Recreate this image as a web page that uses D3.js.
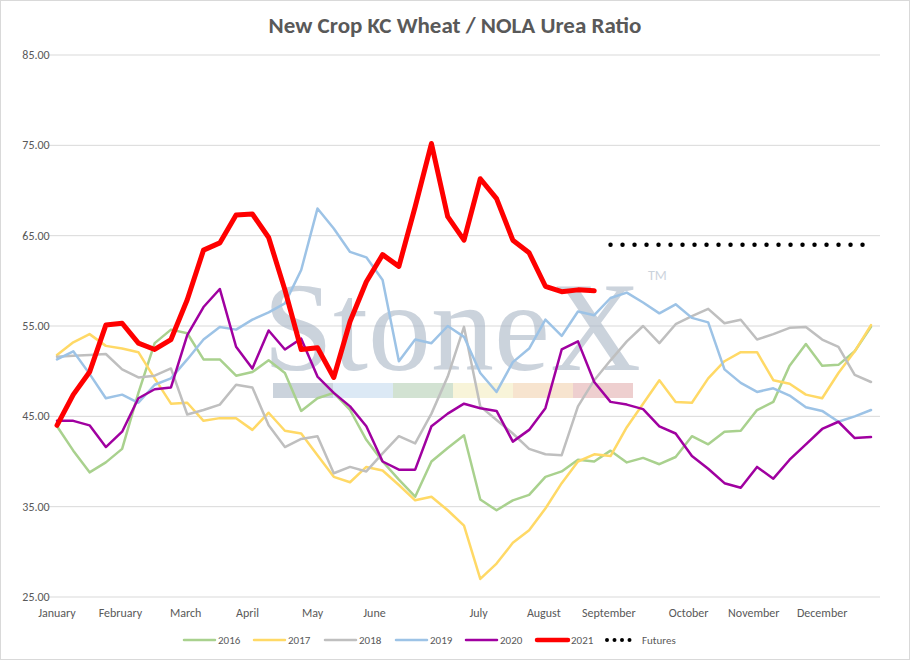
<!DOCTYPE html>
<html><head><meta charset="utf-8">
<script src="https://cdn.jsdelivr.net/npm/d3@7"></script>
<style>body{margin:0;background:#fff;font-family:Calibri,Carlito,"Liberation Sans",Arial,sans-serif;}</style>
</head><body><svg id="chart" width="910" height="660"></svg>
<script>
// weekly ratio values, index 0..50
const y2016 = [43.9,41.2,38.8,39.9,41.4,47.6,53.1,54.6,54.2,51.3,51.3,49.5,49.9,51.2,49.8,45.6,47.0,47.6,45.7,42.4,40.0,38.0,36.1,40.0,41.5,42.9,35.8,34.6,35.7,36.3,38.3,38.9,40.2,40.0,41.2,39.9,40.4,39.7,40.5,42.8,41.9,43.3,43.4,45.7,46.6,50.6,53.0,50.6,50.7,52.2,54.9];
const y2017 = [51.8,53.2,54.1,52.8,52.5,52.1,49.2,46.4,46.5,44.5,44.8,44.8,43.5,45.4,43.4,43.1,40.7,38.3,37.7,39.4,39.0,37.4,35.7,36.1,34.6,32.9,27.0,28.7,31.0,32.4,34.8,37.6,40.0,40.8,40.6,43.8,46.4,49.0,46.6,46.5,49.2,51.1,52.1,52.1,49.0,48.6,47.4,47.0,49.8,52.2,55.1];
const y2018 = [51.6,51.7,51.8,51.9,50.2,49.3,49.5,50.3,45.2,45.7,46.3,48.5,48.2,44.0,41.6,42.5,42.8,38.7,39.4,38.9,40.9,42.8,42.0,45.3,49.4,54.9,46.1,44.6,43.1,41.4,40.8,40.7,46.1,49.0,51.2,53.3,55.0,53.1,55.2,56.1,56.9,55.3,55.7,53.5,54.1,54.8,54.9,53.5,52.7,49.6,48.8];
const y2019 = [51.3,52.2,49.7,47.0,47.4,46.5,48.5,49.2,51.3,53.5,54.9,54.6,55.7,56.5,57.5,61.2,68.0,65.8,63.2,62.6,60.1,51.1,53.5,53.1,55.0,53.8,49.8,47.7,51.0,52.5,55.7,53.9,56.6,56.2,58.1,58.7,57.6,56.4,57.4,55.9,55.4,50.2,48.7,47.7,48.1,47.3,46.0,45.6,44.4,45.0,45.7];
const y2020 = [44.5,44.5,44.0,41.6,43.3,47.0,48.0,48.2,54.0,57.1,59.1,52.7,50.3,54.5,52.4,53.6,49.4,47.6,46.1,43.9,40.0,39.1,39.1,43.9,45.3,46.4,45.9,45.6,42.2,43.5,45.9,52.4,53.3,48.8,46.6,46.3,45.8,43.9,43.1,40.6,39.2,37.6,37.1,39.4,38.1,40.2,41.9,43.6,44.4,42.6,42.7];
const y2021 = [44.0,47.4,49.9,55.1,55.3,53.1,52.4,53.5,57.9,63.4,64.2,67.3,67.4,64.8,59.0,52.4,52.6,49.3,55.5,59.9,62.9,61.6,68.2,75.2,67.1,64.5,71.3,69.1,64.5,63.1,59.4,58.8,59.0,58.9];
const futures = [64.0,64.0,64.0,64.0,64.0,64.0,64.0,64.0,64.0,64.0,64.0,64.0,64.0,64.0,64.0,64.0,64.0];
const futuresStart = 34;
const months = ["January","February","March","April","May","June","July","August","September","October","November","December"];
const monthIdx = [0,3.9,7.9,11.7,15.7,19.5,25.9,29.9,33.9,38.8,42.8,47];
const yTicks = [25,35,45,55,65,75,85];

const svg = d3.select("#chart");
svg.append("rect").attr("x",0.5).attr("y",0.5).attr("width",909).attr("height",659).attr("fill","#fff").attr("stroke","#d9d9d9");

const x = d3.scaleLinear().domain([0,50]).range([57,871]);
const y = d3.scaleLinear().domain([25,85]).range([597,55]);

svg.append("text").attr("x",455).attr("y",33).attr("text-anchor","middle")
  .attr("font-size",23).attr("font-weight","bold").attr("fill","#595959")
  .text("New Crop KC Wheat / NOLA Urea Ratio");

// grid
svg.append("g").selectAll("line").data(yTicks).join("line")
  .attr("x1",47).attr("x2",880).attr("y1",d=>y(d)).attr("y2",d=>y(d))
  .attr("stroke","#d9d9d9").attr("stroke-width",1);
svg.append("g").selectAll("text").data(yTicks).join("text")
  .attr("x",36).attr("y",d=>y(d)+4).attr("text-anchor","middle")
  .attr("font-size",12).attr("fill","#595959").text(d=>d.toFixed(2));
svg.append("g").selectAll("text").data(months).join("text")
  .attr("x",(d,i)=>x(monthIdx[i])).attr("y",617).attr("text-anchor","middle")
  .attr("font-size",12).attr("fill","#595959").text(d=>d);

// watermark
const wm = svg.append("g").attr("opacity",0.6);
wm.append("text").attr("x",452).attr("y",370).attr("text-anchor","middle")
  .attr("font-family","'Liberation Serif','DejaVu Serif',serif").attr("font-size",126)
  .attr("fill","#a9b6c6").text("StoneX");
wm.append("text").attr("x",648).attr("y",280).attr("font-size",14).attr("fill","#a9b6c6").text("TM");
const bandColors = ["#a9b6c6","#c6dcef","#b5cfb5","#f5eec0","#f3d3b0","#e3b0b0"];
wm.selectAll("rect.band").data(bandColors).join("rect")
  .attr("x",(d,i)=>273+i*60).attr("y",383).attr("width",60).attr("height",15).attr("fill",d=>d);

const line = d3.line().x((d,i)=>x(i)).y(d=>y(d));
const series = [
  {name:"2016",data:y2016,color:"#a9d18e",w:2.5},
  {name:"2017",data:y2017,color:"#ffd966",w:2.5},
  {name:"2018",data:y2018,color:"#bfbfbf",w:2.5},
  {name:"2019",data:y2019,color:"#9dc3e6",w:2.5},
  {name:"2020",data:y2020,color:"#a000a0",w:2.5},
  {name:"2021",data:y2021,color:"#ff0000",w:5}
];
svg.append("g").selectAll("path").data(series).join("path")
  .attr("d",d=>line(d.data)).attr("fill","none")
  .attr("stroke",d=>d.color).attr("stroke-width",d=>d.w)
  .attr("stroke-linejoin","round").attr("stroke-linecap","round");

const fLine = d3.line().x((d,i)=>x(i+futuresStart)).y(d=>y(d));
svg.append("path").attr("d",fLine(futures)).attr("fill","none")
  .attr("stroke","#000").attr("stroke-width",4.5).attr("stroke-linecap","round")
  .attr("stroke-dasharray","0 12");

// legend
const legend = [...series.map(s=>({name:s.name,color:s.color,w:s.w,dash:null})),
  {name:"Futures",color:"#000",w:4,dash:"0 7.5"}];
const lx = [184,254,325,396,466,537,607];
const lg = svg.append("g").selectAll("g").data(legend).join("g")
  .attr("transform",(d,i)=>`translate(${lx[i]},640)`);
lg.append("line").attr("x1",0).attr("x2",d=>d.dash?23:31).attr("y1",0).attr("y2",0)
  .attr("stroke",d=>d.color).attr("stroke-linecap","round")
  .attr("stroke-dasharray",d=>d.dash).attr("stroke-width",d=>d.dash?4:(d.w===5?4.5:2.5));
lg.append("text").attr("x",d=>d.dash?35:34).attr("y",4).attr("font-size",11)
  .attr("fill","#595959").text(d=>d.name);
</script></body></html>
